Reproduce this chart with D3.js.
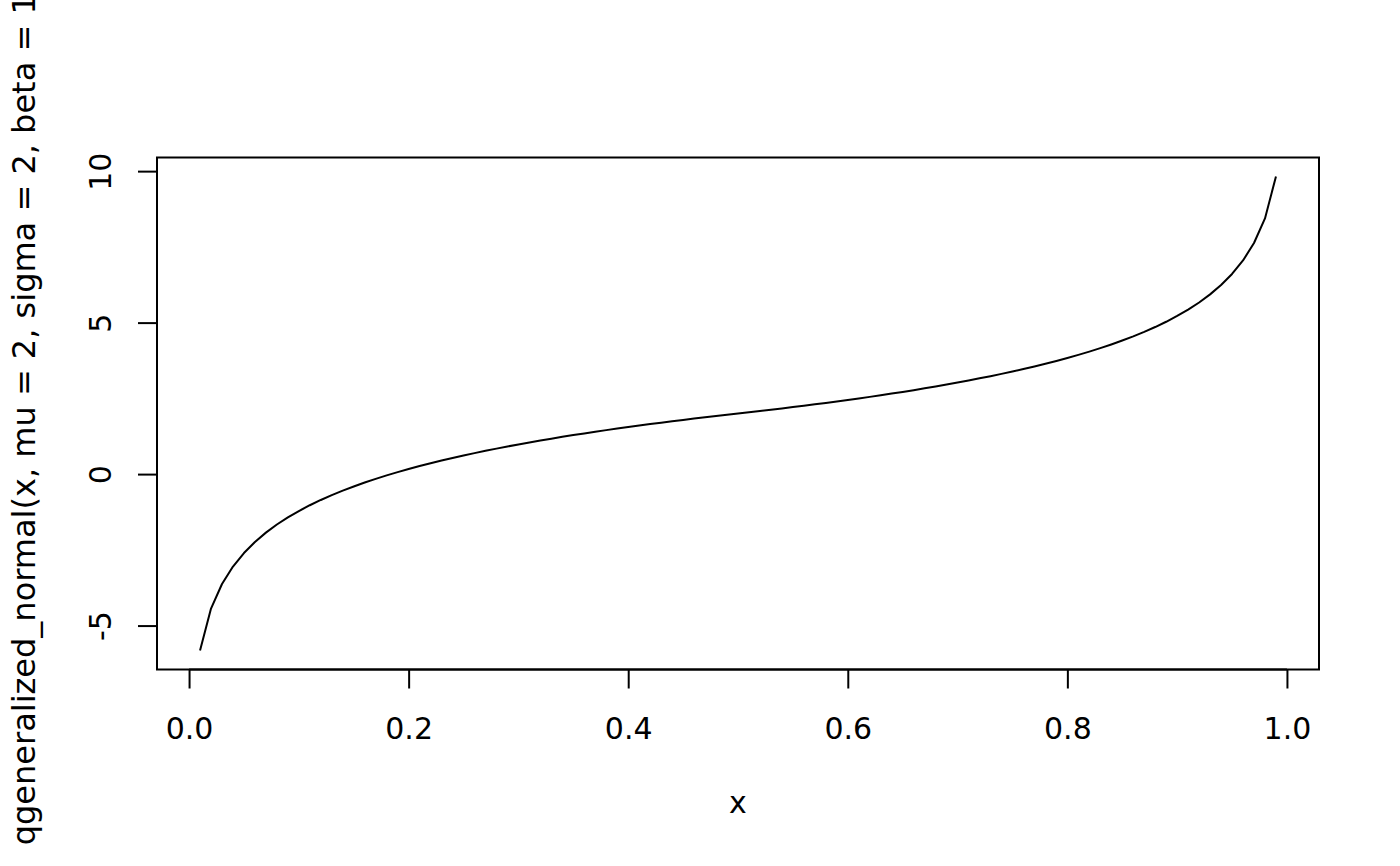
<!DOCTYPE html>
<html>
<head>
<meta charset="utf-8">
<script src="https://cdn.jsdelivr.net/npm/d3@7"></script>
<style>
  html, body { margin: 0; padding: 0; background: #fff; }
  svg { display: block; }
  text { font-family: "DejaVu Sans", sans-serif; fill: #000; }
</style>
</head>
<body>
<svg id="chart" width="1400" height="866"></svg>
<script>
const xValues = [0.01,0.02,0.03,0.04,0.05,0.06,0.07,0.08,0.09,0.10,
  0.11,0.12,0.13,0.14,0.15,0.16,0.17,0.18,0.19,0.20,
  0.21,0.22,0.23,0.24,0.25,0.26,0.27,0.28,0.29,0.30,
  0.31,0.32,0.33,0.34,0.35,0.36,0.37,0.38,0.39,0.40,
  0.41,0.42,0.43,0.44,0.45,0.46,0.47,0.48,0.49,0.50,
  0.51,0.52,0.53,0.54,0.55,0.56,0.57,0.58,0.59,0.60,
  0.61,0.62,0.63,0.64,0.65,0.66,0.67,0.68,0.69,0.70,
  0.71,0.72,0.73,0.74,0.75,0.76,0.77,0.78,0.79,0.80,
  0.81,0.82,0.83,0.84,0.85,0.86,0.87,0.88,0.89,0.90,
  0.91,0.92,0.93,0.94,0.95,0.96,0.97,0.98,0.99];
const yValues = [-5.824,-4.438,-3.627,-3.051,-2.605,-2.241,-1.932,-1.665,-1.430,-1.219,
  -1.028,-0.854,-0.694,-0.546,-0.408,-0.279,-0.158,-0.043,0.065,0.167,
  0.265,0.358,0.447,0.532,0.614,0.692,0.768,0.840,0.911,0.978,
  1.044,1.107,1.169,1.229,1.287,1.343,1.398,1.451,1.503,1.554,
  1.603,1.651,1.698,1.744,1.789,1.833,1.876,1.918,1.960,2.000,
  2.040,2.082,2.124,2.167,2.211,2.256,2.302,2.349,2.397,2.446,
  2.497,2.549,2.602,2.657,2.713,2.771,2.831,2.893,2.956,3.022,
  3.089,3.160,3.232,3.308,3.386,3.468,3.553,3.642,3.735,3.833,
  3.935,4.043,4.158,4.279,4.408,4.546,4.694,4.854,5.028,5.219,
  5.430,5.665,5.932,6.241,6.605,7.051,7.627,8.438,9.824];
const xTicks = [0.0, 0.2, 0.4, 0.6, 0.8, 1.0];
const xTickLabels = ["0.0", "0.2", "0.4", "0.6", "0.8", "1.0"];
const yTicks = [-5, 0, 5, 10];
const yTickLabels = ["-5", "0", "5", "10"];
const xLabel = "x";
const yLabel = "qgeneralized_normal(x, mu = 2, sigma = 2, beta = 1)";

const svg = d3.select("#chart");
const L = 157, R = 1319, T = 157.5, B = 669.5;

const xExt = d3.extent(xValues), yExt = d3.extent(yValues);
const xPad = (xExt[1] - xExt[0]) * 0.04, yPad = (yExt[1] - yExt[0]) * 0.04;
const x = d3.scaleLinear().domain([xExt[0] - xPad, xExt[1] + xPad]).range([L, R]);
const y = d3.scaleLinear().domain([yExt[0] - yPad, yExt[1] + yPad]).range([B, T]);

const fs = 30;

// Curve
const line = d3.line().x((d, i) => x(xValues[i])).y(d => y(d));
svg.append("path").datum(yValues)
  .attr("d", line).attr("fill", "none").attr("stroke", "#000")
  .attr("stroke-width", 2).attr("stroke-linejoin", "round");

// Box
svg.append("rect").attr("x", L).attr("y", T).attr("width", R - L).attr("height", B - T)
  .attr("fill", "none").attr("stroke", "#000").attr("stroke-width", 2);

// X axis
const xAxis = d3.axisBottom(x).tickValues(xTicks).tickSize(19).tickPadding(0)
  .tickFormat((d, i) => xTickLabels[i]);
const gx = svg.append("g").attr("transform", `translate(0,${B})`).call(xAxis);
gx.select(".domain").attr("d", `M${x(xTicks[0])},0H${x(xTicks[xTicks.length-1])}`)
  .attr("stroke-width", 2);
gx.selectAll(".tick line").attr("stroke-width", 2);
gx.selectAll(".tick text").attr("font-size", fs).attr("font-family", "DejaVu Sans")
  .attr("dy", null).attr("y", 69);

// Y axis
const yAxis = d3.axisLeft(y).tickValues(yTicks).tickSize(19).tickPadding(0)
  .tickFormat((d, i) => yTickLabels[i]);
const gy = svg.append("g").attr("transform", `translate(${L},0)`).call(yAxis);
gy.select(".domain").attr("d", `M0,${y(yTicks[0])}V${y(yTicks[yTicks.length-1])}`)
  .attr("stroke-width", 2);
gy.selectAll(".tick line").attr("stroke-width", 2);
gy.selectAll(".tick text").attr("font-size", fs).attr("font-family", "DejaVu Sans")
  .attr("x", null).attr("dy", null).attr("text-anchor", "middle")
  .attr("transform", "translate(-46,0) rotate(-90)");

// Axis labels
svg.append("text").attr("x", (L + R) / 2).attr("y", 813)
  .attr("text-anchor", "middle").attr("font-size", fs).text(xLabel);
svg.append("text").attr("transform", `translate(35,${(T + B) / 2}) rotate(-90)`)
  .attr("text-anchor", "middle").attr("font-size", 32).text(yLabel);
</script>
</body>
</html>
